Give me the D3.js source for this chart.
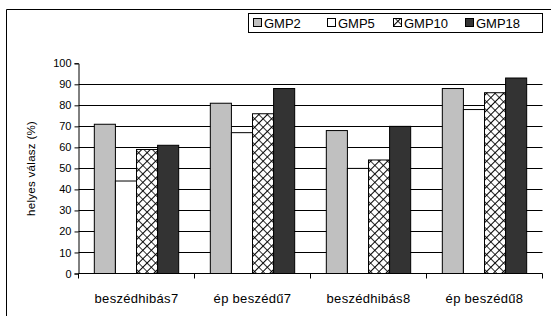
<!DOCTYPE html>
<html>
<head>
<meta charset="utf-8">
<script src="https://cdn.jsdelivr.net/npm/d3@7"></script>
<style>
  body { margin: 0; background: #fff; }
  text { font-family: "Liberation Sans", Arial, sans-serif; fill: #000; }
</style>
</head>
<body>
<div id="chart"></div>
<script>
const categories = ["beszédhibás7", "ép beszédű7", "beszédhibás8", "ép beszédű8"];
const seriesNames = ["GMP2", "GMP5", "GMP10", "GMP18"];
const gmp2 = [71, 81, 68, 88];
const gmp5 = [44, 67, 50, 78];
const gmp10 = [59, 76, 54, 86];
const gmp18 = [61, 88, 70, 93];
const yTicks = [0, 10, 20, 30, 40, 50, 60, 70, 80, 90, 100];

const seriesValues = [gmp2, gmp5, gmp10, gmp18];
const fills = ["#c0c0c0", "#ffffff", "url(#hatch)", "#333333"];

const W = 551, H = 316;
const plotL = 78.5, plotR = 542.5, plotT = 63.3, plotB = 273.5;

const svg = d3.select("#chart").append("svg")
    .attr("width", W)
    .attr("height", H);

// brick-like diagonal hatch for GMP10
const pat = svg.append("defs").append("pattern")
    .attr("id", "hatch")
    .attr("patternUnits", "userSpaceOnUse")
    .attr("width", 6)
    .attr("height", 6)
    .attr("patternTransform", "rotate(-45)");
pat.append("rect").attr("width", 6).attr("height", 6).attr("fill", "#fff");
pat.append("line").attr("x1", 0).attr("y1", 0.5).attr("x2", 6).attr("y2", 0.5)
    .attr("stroke", "#000").attr("stroke-width", 1);
pat.append("line").attr("x1", 0.5).attr("y1", 0).attr("x2", 0.5).attr("y2", 6)
    .attr("stroke", "#000").attr("stroke-width", 0.8);

// outer frame (cropped at right and bottom)
svg.append("path")
    .attr("d", "M6.5," + (H + 5) + "V9.5H" + (W + 5))
    .attr("fill", "none")
    .attr("stroke", "#000");

const x0 = d3.scaleBand().domain(categories).range([plotL, plotR]).paddingInner(0).paddingOuter(0);
const barW = x0.bandwidth() / 5.5;
const x1 = d3.scaleBand().domain(seriesNames)
    .range([x0.bandwidth() * 0.75 / 5.5, x0.bandwidth() * 0.75 / 5.5 + barW * 4]);
const y = d3.scaleLinear().domain([0, 100]).range([plotB, plotT]);

// gridlines
svg.append("g").selectAll("line")
    .data(yTicks.slice(1, -1))
    .join("line")
    .attr("x1", plotL).attr("x2", plotR)
    .attr("y1", d => Math.round(y(d)) + 0.5)
    .attr("y2", d => Math.round(y(d)) + 0.5)
    .attr("stroke", "#000");

// bars
const groups = svg.append("g").selectAll("g")
    .data(categories)
    .join("g")
    .attr("transform", d => `translate(${x0(d)},0)`);

groups.selectAll("rect")
    .data((d, i) => seriesNames.map((s, j) => ({s, j, v: seriesValues[j][i]})))
    .join("rect")
    .attr("x", d => x1(d.s))
    .attr("width", barW)
    .attr("y", d => y(d.v))
    .attr("height", d => y(0) - y(d.v))
    .attr("fill", d => fills[d.j])
    .attr("stroke", "#000")
    .attr("stroke-width", 1);

// y axis
const yAxis = svg.append("g")
    .attr("transform", `translate(${plotL},0)`)
    .call(d3.axisLeft(y).tickValues(yTicks).tickSize(4).tickPadding(3));
yAxis.select(".domain").attr("stroke", "#000");
yAxis.selectAll("text").style("font-size", "11px");

// x axis
const xAxis = svg.append("g")
    .attr("transform", `translate(0,${plotB})`);
xAxis.append("line").attr("x1", plotL).attr("x2", plotR).attr("stroke", "#000");
xAxis.selectAll("line.tick")
    .data(categories.map(c => x0(c)).concat([plotR]))
    .join("line")
    .attr("class", "tick")
    .attr("x1", d => d).attr("x2", d => d)
    .attr("y1", 0).attr("y2", 5)
    .attr("stroke", "#000");
xAxis.selectAll("text")
    .data(categories)
    .join("text")
    .attr("x", d => x0(d) + x0.bandwidth() / 2)
    .attr("y", 29)
    .attr("text-anchor", "middle")
    .style("font-size", "13px")
    .style("letter-spacing", "0.3px")
    .text(d => d);

// y title
svg.append("text")
    .attr("transform", `translate(35,${(plotT + plotB) / 2}) rotate(-90)`)
    .attr("text-anchor", "middle")
    .style("font-size", "11.5px")
    .style("letter-spacing", "0.3px")
    .text("helyes válasz (%)");

// legend
const legend = svg.append("g");
legend.append("rect")
    .attr("x", 248.5).attr("y", 13.5)
    .attr("width", 294).attr("height", 19)
    .attr("fill", "#fff").attr("stroke", "#000");
const legendX = [253, 327, 393, 465];
const items = legend.selectAll("g")
    .data(seriesNames)
    .join("g")
    .attr("transform", (d, i) => `translate(${legendX[i]},0)`);
items.append("rect")
    .attr("x", 0.5).attr("y", 18.5)
    .attr("width", 8).attr("height", 8)
    .attr("fill", (d, i) => fills[i])
    .attr("stroke", "#000");
items.append("text")
    .attr("x", 11)
    .attr("y", 28)
    .style("font-size", "13px")
    .text(d => d);
</script>
</body>
</html>
